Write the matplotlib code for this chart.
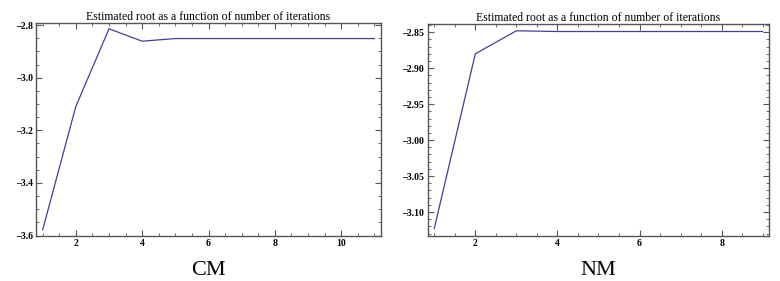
import matplotlib
matplotlib.use("Agg")
import matplotlib.pyplot as plt
from matplotlib.ticker import MultipleLocator, FuncFormatter

# Estimated root per iteration.
cm_iter = [1, 2, 3, 4, 5, 6, 7, 8, 9, 10, 11]
cm_root = [-3.578, -3.109, -2.814, -2.861, -2.851, -2.851, -2.851, -2.851, -2.851, -2.851, -2.851]

nm_iter = [1, 2, 3, 4, 5, 6, 7, 8, 9]
nm_root = [-3.123, -2.880, -2.848, -2.849, -2.849, -2.849, -2.849, -2.849, -2.849]

TITLE = "Estimated root as a function of number of iterations"
LINE = "#3f3f9c"
FRAME = "#555555"

plt.rcParams["font.family"] = ["Liberation Serif", "DejaVu Serif"]

fig = plt.figure(figsize=(7.8, 2.81), dpi=100)
ax1 = fig.add_axes([0.0462, 0.161, 0.4423, 0.757])
ax2 = fig.add_axes([0.5483, 0.161, 0.438, 0.7525])


def dash_fmt(decimals):
    # Mathematica-style labels use an en dash for the minus sign
    return FuncFormatter(lambda v, _: f"{v:.{decimals}f}".replace("-", "\u2013"))


def style(ax, x, y, xminor, ymajor, yminor, decimals, label):
    ax.plot(x, y, color=LINE, lw=0.9)
    n = x[-1] - x[0]
    ax.set_xlim(x[0] - 0.02 * n, x[-1] + 0.02 * n)
    ax.xaxis.set_major_locator(MultipleLocator(2))
    ax.xaxis.set_minor_locator(MultipleLocator(xminor))
    ax.yaxis.set_major_locator(MultipleLocator(ymajor))
    ax.yaxis.set_minor_locator(MultipleLocator(yminor))
    ax.yaxis.set_major_formatter(dash_fmt(decimals))
    ax.tick_params(which="both", direction="in", top=True, right=True,
                   color=FRAME, labelsize=7, pad=2.5)
    ax.tick_params(which="major", length=4, width=0.8)
    ax.tick_params(which="minor", length=2, width=0.6)
    for lbl in ax.get_xticklabels() + ax.get_yticklabels():
        lbl.set_fontweight("bold")
    for s in ax.spines.values():
        s.set_color(FRAME)
        s.set_linewidth(1.0)
    ax.set_title(TITLE, fontsize=8.5, pad=2)
    ax.set_xlabel(label, fontsize=16, labelpad=9)


style(ax1, cm_iter, cm_root, 0.5, 0.2, 0.05, 1, "CM")
ax1.set_ylim(-3.6008, -2.792)

style(ax2, nm_iter, nm_root, 0.5, 0.05, 0.01, 2, "NM")
ax2.set_ylim(-3.133, -2.839)

fig.savefig("out.png", dpi=100)
